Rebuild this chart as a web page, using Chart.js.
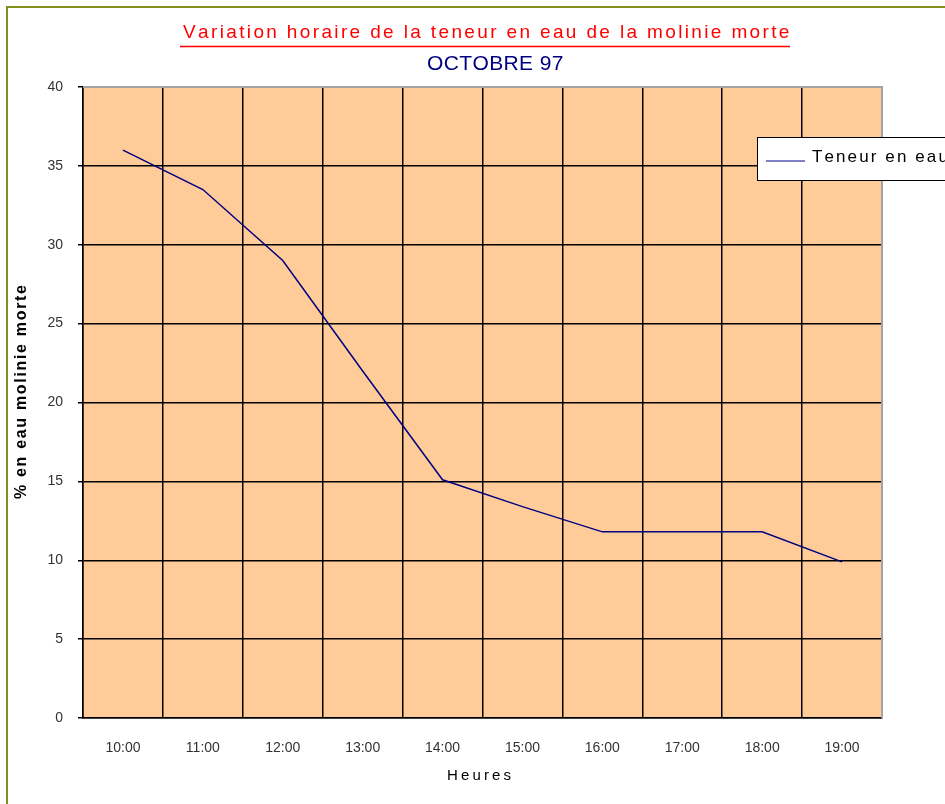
<!DOCTYPE html>
<html>
<head>
<meta charset="utf-8">
<title>Teneur en eau de la molinie morte</title>
<script src="https://cdn.jsdelivr.net/npm/chart.js@4/dist/chart.umd.min.js"></script>
<style>
  html, body { margin: 0; padding: 0; background: #fff; }
  #wrap { width: 945px; height: 804px; }
</style>
</head>
<body>
<div id="wrap"><canvas id="chart" width="945" height="804"></canvas></div>
<script>
// heures de mesure et teneur en eau (%)
var heures = ["10:00", "11:00", "12:00", "13:00", "14:00", "15:00", "16:00", "17:00", "18:00", "19:00"];
var teneur = [36, 33.5, 29, 22, 15.1, 13.4, 11.8, 11.8, 11.8, 9.9];
var yTicks = [0, 5, 10, 15, 20, 25, 30, 35, 40];

var titre = "Variation horaire de la teneur en eau de la molinie morte";
var sousTitre = "OCTOBRE 97";
var titreY = "% en eau molinie morte";
var titreX = "Heures";
var nomSerie = "Teneur en eau";

var FONT = "'Liberation Sans', Arial, sans-serif";

// draws text char by char, spread out to a given width
function drawSpread(ctx, text, left, y, width) {
    var natural = ctx.measureText(text).width;
    var gap = text.length > 1 ? (width - natural) / (text.length - 1) : 0;
    var x = left;
    ctx.textAlign = "left";
    for (var i = 0; i < text.length; i++) {
        ctx.fillText(text[i], x, y);
        x += ctx.measureText(text[i]).width + gap;
    }
}

var plotBackground = {
    id: "plotBackground",
    beforeDraw: function (chart) {
        var a = chart.chartArea;
        var ctx = chart.ctx;
        ctx.save();
        ctx.fillStyle = "#ffcc99";
        ctx.fillRect(a.left, a.top, a.right - a.left, a.bottom - a.top);
        ctx.restore();
    }
};

var decor = {
    id: "decor",
    afterDraw: function (chart) {
        var ctx = chart.ctx;
        var a = chart.chartArea;
        ctx.save();

        // olive frame, top and left
        ctx.strokeStyle = "#858f1c";
        ctx.lineWidth = 2;
        ctx.beginPath();
        ctx.moveTo(7, 810);
        ctx.lineTo(7, 7);
        ctx.lineTo(950, 7);
        ctx.stroke();

        // grey edge of the plot, top and right
        ctx.strokeStyle = "#a3a3a3";
        ctx.lineWidth = 2;
        ctx.beginPath();
        ctx.moveTo(a.left, a.top);
        ctx.lineTo(a.right, a.top);
        ctx.lineTo(a.right, a.bottom);
        ctx.stroke();

        ctx.textBaseline = "middle";

        // titles
        ctx.fillStyle = "#ff0000";
        ctx.font = "19px " + FONT;
        drawSpread(ctx, titre, 183, 33, 605);
        ctx.strokeStyle = "#ff0000";
        ctx.lineWidth = 1.5;
        ctx.beginPath();
        ctx.moveTo(180, 46.5);
        ctx.lineTo(790, 46.5);
        ctx.stroke();

        ctx.fillStyle = "#000080";
        ctx.font = "21px " + FONT;
        drawSpread(ctx, sousTitre, 427, 64, 136);

        // axis titles
        ctx.fillStyle = "#000";
        ctx.font = "15px " + FONT;
        drawSpread(ctx, titreX, 447, 776, 64);

        ctx.save();
        ctx.translate(22, 392);
        ctx.rotate(-Math.PI / 2);
        ctx.font = "bold 16px " + FONT;
        drawSpread(ctx, titreY, -107, 0, 214);
        ctx.restore();

        // legend box
        ctx.fillStyle = "#fff";
        ctx.fillRect(757, 137, 200, 43);
        ctx.strokeStyle = "#000";
        ctx.lineWidth = 1;
        ctx.strokeRect(757.5, 137.5, 200, 43);
        ctx.strokeStyle = "#5555b0";
        ctx.lineWidth = 1.5;
        ctx.beginPath();
        ctx.moveTo(766, 161);
        ctx.lineTo(805, 161);
        ctx.stroke();
        ctx.fillStyle = "#000";
        ctx.font = "17px " + FONT;
        drawSpread(ctx, nomSerie, 812, 157, 134);

        ctx.restore();
    }
};

new Chart(document.getElementById("chart"), {
    type: "line",
    data: {
        labels: heures,
        datasets: [{
            label: nomSerie,
            data: teneur,
            borderColor: "#000080",
            borderWidth: 1.5,
            pointRadius: 0,
            tension: 0,
            fill: false
        }]
    },
    options: {
        responsive: false,
        animation: false,
        layout: { padding: { top: 87, right: 63, left: 0, bottom: 0 } },
        plugins: {
            legend: { display: false },
            title: { display: false },
            tooltip: { enabled: false }
        },
        scales: {
            x: {
                offset: true,
                afterFit: function (s) { s.height = 86; },
                grid: {
                    offset: true,
                    color: "#000",
                    lineWidth: 1.5,
                    drawTicks: false
                },
                border: { color: "#000", width: 1.5 },
                ticks: {
                    padding: 22,
                    color: "#333",
                    font: { family: FONT, size: 14 },
                    maxRotation: 0,
                    autoSkip: false
                }
            },
            y: {
                min: 0,
                max: 40,
                afterFit: function (s) { s.width = 83; },
                afterBuildTicks: function (s) {
                    s.ticks = yTicks.map(function (v) { return { value: v }; });
                },
                grid: {
                    color: "#000",
                    lineWidth: 1.5,
                    tickLength: 5,
                    tickColor: "#000"
                },
                border: { color: "#000", width: 1.5 },
                ticks: {
                    padding: 15,
                    color: "#333",
                    font: { family: FONT, size: 14 }
                }
            }
        }
    },
    plugins: [plotBackground, decor]
});
</script>
</body>
</html>
